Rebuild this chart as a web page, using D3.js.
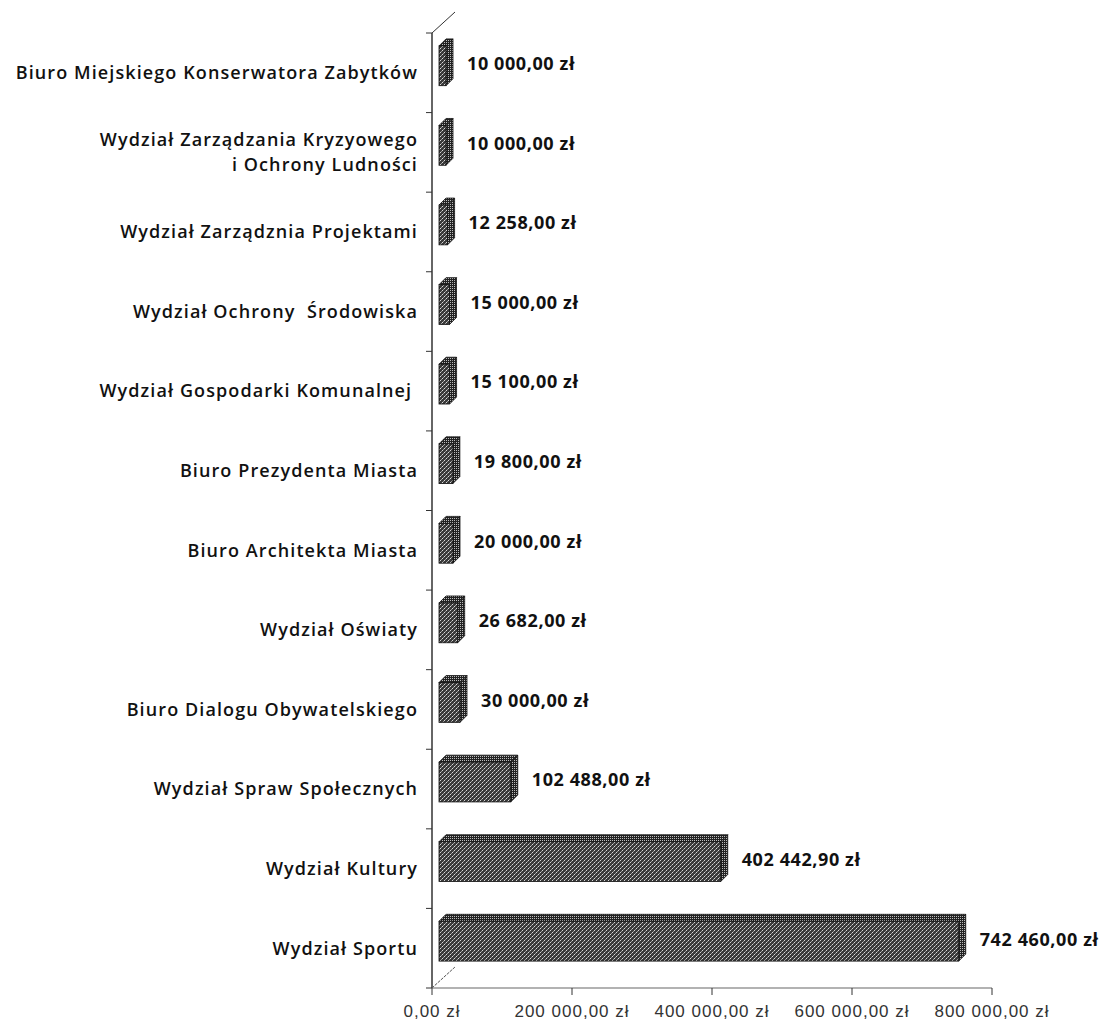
<!DOCTYPE html>
<html>
<head>
<meta charset="utf-8">
<script src="https://cdn.jsdelivr.net/npm/d3@7"></script>
<style>
  body { margin: 0; background: #fff; }
  svg { display: block; }
  .cat { font-family: "Open Sans", Lato, sans-serif; font-size: 18px; font-weight: 600; fill: #111; letter-spacing: 1.1px; }
  .val { font-family: "Open Sans", Lato, sans-serif; font-size: 18px; font-weight: bold; fill: #111; letter-spacing: 0.6px; }
  .tick-lbl { font-family: "Liberation Sans", "DejaVu Sans", sans-serif; font-size: 17px; fill: #333; letter-spacing: 1px; }
</style>
</head>
<body>
<div id="chart"></div>
<script>
// wydziały, od góry
var kategorie = [
  ["Biuro Miejskiego Konserwatora Zabytków"],
  ["Wydział Zarządzania Kryzyowego", "i Ochrony Ludności"],
  ["Wydział Zarządznia Projektami"],
  ["Wydział Ochrony  Środowiska"],
  ["Wydział Gospodarki Komunalnej "],
  ["Biuro Prezydenta Miasta"],
  ["Biuro Architekta Miasta"],
  ["Wydział Oświaty"],
  ["Biuro Dialogu Obywatelskiego"],
  ["Wydział Spraw Społecznych"],
  ["Wydział Kultury"],
  ["Wydział Sportu"]
];
var kwoty = [10000, 10000, 12258, 15000, 15100, 19800, 20000, 26682, 30000, 102488, 402442.90, 742460];
var osX = [0, 200000, 400000, 600000, 800000];

var width = 1111, height = 1027;
var margin = { left: 432, right: 119, top: 33, bottom: 39 };

var pl = d3.formatLocale({ decimal: ",", thousands: "\u00a0", grouping: [3], currency: ["", " zł"] });
var zl = function (d) { return pl.format(",.2f")(d) + " zł"; };

var svg = d3.select("#chart").append("svg")
  .attr("width", width)
  .attr("height", height);

// tekstura słupków
var defs = svg.append("defs");
var pat = defs.append("pattern")
  .attr("id", "dith")
  .attr("width", 4).attr("height", 4)
  .attr("patternUnits", "userSpaceOnUse");
pat.append("rect").attr("width", 4).attr("height", 4).attr("fill", "#3a3a3a");
pat.append("rect").attr("x", 0).attr("y", 0).attr("width", 1).attr("height", 1).attr("fill", "#d8d8d8");
pat.append("rect").attr("x", 2).attr("y", 2).attr("width", 1).attr("height", 1).attr("fill", "#d8d8d8");
pat.append("rect").attr("x", 3).attr("y", 1).attr("width", 1).attr("height", 1).attr("fill", "#999");
pat.append("rect").attr("x", 1).attr("y", 3).attr("width", 1).attr("height", 1).attr("fill", "#999");

var pat2 = defs.append("pattern")
  .attr("id", "dith2")
  .attr("width", 2).attr("height", 2)
  .attr("patternUnits", "userSpaceOnUse");
pat2.append("rect").attr("width", 2).attr("height", 2).attr("fill", "#222");
pat2.append("rect").attr("width", 1).attr("height", 1).attr("fill", "#bbb");

var x = d3.scaleLinear()
  .domain([0, 800000])
  .range([margin.left, width - margin.right]);

var y = d3.scaleBand()
  .domain(d3.range(kategorie.length))
  .range([margin.top, height - margin.bottom])
  .paddingInner(0.5)
  .paddingOuter(0.25);

var step = y.step();
var glebX = 23, glebY = -21;   // głębia ściany
var d = 7;                      // głębia słupka
var x0 = x(0) + 7;
var yLift = -7;

// ściana i podłoga
svg.append("line")
  .attr("x1", x(0)).attr("x2", x(0))
  .attr("y1", y.range()[0]).attr("y2", y.range()[1])
  .attr("stroke", "#333").attr("stroke-width", 1.5);
svg.append("line")
  .attr("x1", x(0)).attr("y1", y.range()[0])
  .attr("x2", x(0) + glebX).attr("y2", y.range()[0] + glebY)
  .attr("stroke", "#333").attr("stroke-width", 1);
svg.append("line")
  .attr("x1", x(0)).attr("y1", y.range()[1])
  .attr("x2", x(0) + glebX).attr("y2", y.range()[1] + glebY)
  .attr("stroke", "#555").attr("stroke-width", 1).attr("stroke-dasharray", "3,1");
svg.append("line")
  .attr("x1", x(0)).attr("x2", x(800000))
  .attr("y1", y.range()[1]).attr("y2", y.range()[1])
  .attr("stroke", "#666").attr("stroke-width", 1.2);

// podziałki osi Y
svg.append("g")
  .selectAll("line")
  .data(d3.range(kategorie.length + 1))
  .enter().append("line")
  .attr("x1", x(0) - 6).attr("x2", x(0))
  .attr("y1", i => margin.top + i * step)
  .attr("y2", i => margin.top + i * step)
  .attr("stroke", "#333");

// podziałki osi X
svg.append("g")
  .selectAll("line")
  .data(osX)
  .enter().append("line")
  .attr("x1", v => x(v)).attr("x2", v => x(v))
  .attr("y1", y.range()[1]).attr("y2", y.range()[1] + 7)
  .attr("stroke", "#333");

svg.append("g")
  .selectAll("text")
  .data(osX)
  .enter().append("text")
  .attr("class", "tick-lbl")
  .attr("x", v => x(v))
  .attr("y", y.range()[1] + 29)
  .attr("text-anchor", "middle")
  .text(v => zl(v));

// etykiety kategorii
var cat = svg.append("g")
  .selectAll("text")
  .data(kategorie)
  .enter().append("text")
  .attr("class", "cat")
  .attr("text-anchor", "end")
  .attr("x", 418)
  .attr("y", (k, i) => y(i) + y.bandwidth() / 2);
cat.selectAll("tspan")
  .data(k => k.map((t, j) => ({ t: t, j: j, n: k.length })))
  .enter().append("tspan")
  .attr("x", 418)
  .attr("dy", o => o.j === 0 ? (0.35 - (o.n - 1) * 0.7) + "em" : "1.4em")
  .style("white-space", "pre")
  .text(o => o.t);

// słupki 3D
var bars = svg.append("g")
  .selectAll("g")
  .data(kwoty)
  .enter().append("g");

function barTop(i) { return y(i) + yLift; }

bars.append("path")   // górna ściana
  .attr("d", (v, i) => {
    var xa = x0, xb = x0 + (x(v) - x(0)), t = barTop(i);
    return "M" + xa + "," + t + "L" + (xa + d) + "," + (t - d) + "L" + (xb + d) + "," + (t - d) + "L" + xb + "," + t + "Z";
  })
  .attr("fill", "url(#dith2)")
  .attr("stroke", "#111").attr("stroke-width", 0.8);

bars.append("path")   // boczna ściana
  .attr("d", (v, i) => {
    var xb = x0 + (x(v) - x(0)), t = barTop(i), b = t + y.bandwidth();
    return "M" + xb + "," + t + "L" + (xb + d) + "," + (t - d) + "L" + (xb + d) + "," + (b - d) + "L" + xb + "," + b + "Z";
  })
  .attr("fill", "url(#dith2)")
  .attr("stroke", "#111").attr("stroke-width", 0.8);

bars.append("rect")   // przód
  .attr("x", x0)
  .attr("y", (v, i) => barTop(i))
  .attr("width", v => x(v) - x(0))
  .attr("height", y.bandwidth())
  .attr("fill", "url(#dith)")
  .attr("stroke", "#111").attr("stroke-width", 0.8);

// wartości
svg.append("g")
  .selectAll("text")
  .data(kwoty)
  .enter().append("text")
  .attr("class", "val")
  .attr("x", v => x0 + (x(v) - x(0)) + d + 14)
  .attr("y", (v, i) => barTop(i) + y.bandwidth() / 2 - 2)
  .attr("dy", "0.35em")
  .text(v => zl(v));
</script>
</body>
</html>
